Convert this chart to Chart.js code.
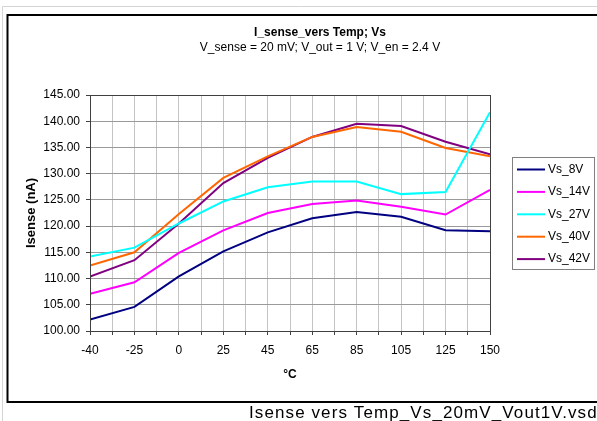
<!DOCTYPE html>
<html>
<head>
<meta charset="utf-8">
<script src="https://cdn.jsdelivr.net/npm/chart.js@4"></script>
<style>
  html, body { margin: 0; padding: 0; background: #fff; }
  #wrap { width: 597px; height: 421px; }
</style>
</head>
<body>
<div id="wrap"><canvas id="IsenseChart" width="597" height="421"></canvas></div>
<script>
// temperatures (°C), equally spaced like the original category axis
const tempLabels = ['-40', '-25', '0', '25', '45', '65', '85', '105', '125', '150'];

// Isense (nA) per supply voltage
const vs8  = [102.2, 104.6, 110.4, 115.2, 118.8, 121.5, 122.7, 121.8, 119.2, 119.0];
const vs14 = [107.1, 109.3, 114.9, 119.2, 122.5, 124.2, 124.9, 123.7, 122.2, 126.9];
const vs27 = [114.2, 115.9, 120.5, 124.7, 127.4, 128.5, 128.5, 126.1, 126.5, 141.7];
const vs40 = [112.5, 115.0, 122.3, 129.2, 133.3, 137.0, 138.9, 138.0, 134.9, 133.3];
const vs42 = [110.4, 113.5, 120.5, 128.2, 133.0, 137.0, 139.5, 139.1, 136.1, 133.7];

const seriesNames = ['Vs_8V', 'Vs_14V', 'Vs_27V', 'Vs_40V', 'Vs_42V'];
const seriesColors = ['#000080', '#ff00ff', '#00ffff', '#ff6600', '#800080'];
const seriesValues = [vs8, vs14, vs27, vs40, vs42];

const yTicks = { min: 100, max: 145, step: 5 };

const FONT = '"Liberation Sans", Arial, sans-serif';

// frame, titles, legend and file name like the exported sheet
const decor = {
  id: 'decor',
  beforeDraw(chart) {
    const c = chart.ctx;
    c.save();
    c.fillStyle = '#fff';
    c.fillRect(0, 0, chart.width, chart.height);
    c.strokeStyle = '#d4d4d4';
    c.lineWidth = 1;
    c.beginPath();
    c.moveTo(2.5, 6.5); c.lineTo(597, 6.5);
    c.moveTo(2.5, 6.5); c.lineTo(2.5, 421);
    c.stroke();
    c.strokeStyle = '#000';
    c.lineWidth = 2;
    c.strokeRect(7.5, 15, 600, 387);
    c.restore();
  },
  afterDraw(chart) {
    const c = chart.ctx;
    const a = chart.chartArea;
    c.save();
    // plot area border
    c.strokeStyle = '#404040';
    c.lineWidth = 1;
    c.strokeRect(Math.round(a.left) + 0.5, Math.round(a.top) + 0.5,
      Math.round(a.right - a.left), Math.round(a.bottom - a.top));

    // titles
    c.fillStyle = '#000';
    c.textAlign = 'center';
    c.textBaseline = 'middle';
    c.font = 'bold 12px ' + FONT;
    c.fillText('I_sense_vers Temp; Vs', 320, 33);
    c.font = '12px ' + FONT;
    c.fillText('V_sense = 20 mV; V_out = 1 V; V_en = 2.4 V', 320, 48);

    // legend
    c.strokeStyle = '#808080';
    c.strokeRect(512.5, 157.5, 82, 112);
    c.textAlign = 'left';
    c.font = '12px ' + FONT;
    chart.data.datasets.forEach((ds, i) => {
      const y = 169.5 + i * 22.4;
      c.strokeStyle = ds.borderColor;
      c.lineWidth = 2;
      c.beginPath();
      c.moveTo(517, y); c.lineTo(545, y);
      c.stroke();
      c.fillStyle = '#000';
      c.fillText(ds.label, 548, y);
    });

    // file name under the frame
    c.font = '17px ' + FONT;
    c.letterSpacing = '1.1px';
    c.textAlign = 'left';
    c.textBaseline = 'alphabetic';
    c.fillText('Isense vers Temp_Vs_20mV_Vout1V.vsd', 249, 418);
    c.restore();
  }
};

new Chart(document.getElementById('IsenseChart'), {
  type: 'line',
  data: {
    datasets: seriesValues.map((vals, i) => ({
      label: seriesNames[i],
      data: vals.map((v, k) => ({ x: k, y: v })),
      borderColor: seriesColors[i],
      backgroundColor: seriesColors[i],
      borderWidth: 2,
      pointRadius: 0,
      tension: 0,
      fill: false
    }))
  },
  options: {
    responsive: false,
    animation: false,
    layout: { padding: { top: 95, right: 107, bottom: 29, left: 10 } },
    plugins: {
      legend: { display: false },
      title: { display: false },
      tooltip: { enabled: false }
    },
    scales: {
      x: {
        type: 'linear',
        min: 0,
        max: tempLabels.length - 1,
        afterFit: s => { s.height = 61; },
        grid: { color: '#c4c4c4', tickColor: '#404040', tickLength: 4 },
        border: { color: '#404040' },
        ticks: {
          stepSize: 0.5,
          autoSkip: false,
          maxRotation: 0,
          padding: 8,
          color: '#000',
          font: { family: FONT, size: 12 },
          callback: v => Number.isInteger(v) ? tempLabels[v] : ''
        },
        title: {
          display: true,
          text: '°C',
          color: '#000',
          font: { family: FONT, size: 12, weight: 'bold' },
          padding: { top: 0, bottom: 10 }
        }
      },
      y: {
        min: yTicks.min,
        max: yTicks.max,
        afterFit: s => { s.width = 80; },
        grid: { color: '#9a9a9a', tickColor: '#404040', tickLength: 4 },
        border: { color: '#404040' },
        ticks: {
          stepSize: yTicks.step,
          padding: 6,
          color: '#000',
          font: { family: FONT, size: 12 },
          callback: v => v.toFixed(2)
        },
        title: {
          display: true,
          text: 'Isense (nA)',
          color: '#000',
          font: { family: FONT, size: 13, weight: 'bold' },
          padding: { top: 14, bottom: 0 }
        }
      }
    }
  },
  plugins: [decor]
});
</script>
</body>
</html>
